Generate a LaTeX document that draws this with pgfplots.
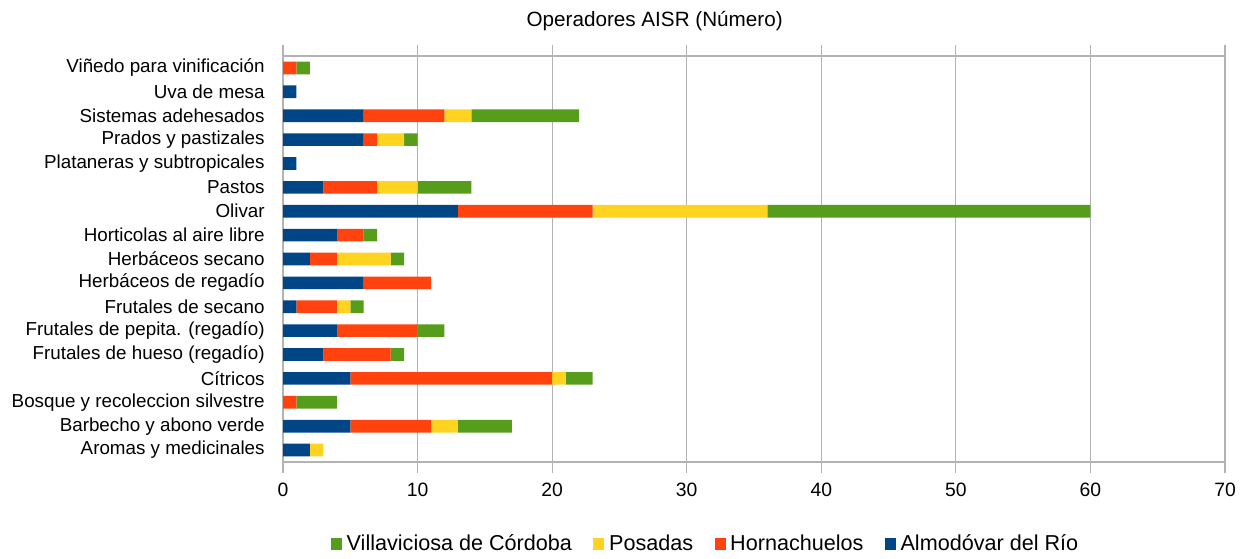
\documentclass[border=0pt]{standalone}
\usepackage{pgfplots}
\pgfplotsset{compat=1.18}
\usepackage{pgfplotstable}
\usepackage{fontspec}
\setmainfont{Liberation Sans}

\definecolor{almod}{HTML}{004586}
\definecolor{horna}{HTML}{FF420E}
\definecolor{posad}{HTML}{FFD320}
\definecolor{villa}{HTML}{579D1C}
\definecolor{gridc}{HTML}{B3B3B3}

% y: category index from bottom; alm / hor / pos / vil = operadores per municipio
\pgfplotstableread{
y  alm hor pos vil
0  2   0   1   0
1  5   6   2   4
2  0   1   0   3
3  5   15  1   2
4  3   5   0   1
5  4   6   0   2
6  1   3   1   1
7  6   5   0   0
8  2   2   4   1
9  4   2   0   1
10 13  10  13  24
11 3   4   3   4
12 1   0   0   0
13 6   1   2   1
14 6   6   2   8
15 1   0   0   0
16 0   1   0   1
}\datatable

\begin{document}
\begin{tikzpicture}
\path[use as bounding box] (0,0) rectangle (936pt,418.5pt);
\node[font=\fontsize{15.5}{17}\selectfont, anchor=center] at (491pt,403pt) {Operadores AISR (Número)};
\begin{axis}[
    at={(212.25pt,72pt)}, anchor=south west,
    scale only axis,
    width=706.5pt, height=304.5pt,
    xbar stacked,
    bar width=0.53,
    xmin=0, xmax=70,
    ymin=-0.5, ymax=16.5,
    xtick={0,10,...,70},
    ytick={0,...,16},
    yticklabels={
        Aromas y medicinales,
        Barbecho y abono verde,
        Bosque y recoleccion silvestre,
        Cítricos,
        Frutales de hueso (regadío),
        Frutales de pepita. (regadío),
        Frutales de secano,
        Herbáceos de regadío,
        Herbáceos secano,
        Horticolas al aire libre,
        Olivar,
        Pastos,
        Plataneras y subtropicales,
        Prados y pastizales,
        Sistemas adehesados,
        Uva de mesa,
        Viñedo para vinificación},
    extra y ticks={-0.5,0.5,...,16.5},
    extra y tick labels={},
    extra y tick style={major tick length=8.25pt, tick style={gridc, line width=0.9pt}},
    tick align=outside,
    ytick style={draw=none},
    xtick style={gridc, line width=0.9pt},
    major tick length=8.25pt,
    xmajorgrids,
    grid style={gridc, line width=0.9pt},
    axis line style={gridc, line width=0.9pt},
    x tick label style={font=\fontsize{14.5}{16}\selectfont, yshift=-4pt},
    y tick label style={font=\fontsize{14.1}{16}\selectfont, xshift=-2pt},
    /pgf/number format/assume math mode=true,
    legend style={at={(0.449,-0.202)}, anchor=center, draw=none,
        font=\fontsize{16.2}{17}\selectfont, column sep=1.5pt,
        /tikz/every even column/.append style={column sep=14pt}},
    legend columns=4,
    reverse legend,
    legend image code/.code={\fill[#1] (0pt,-4.2pt) rectangle (8.3pt,4.2pt);},
]
\addplot[fill=almod, draw=none] table[x=alm, y=y] {\datatable};
\addlegendentry{Almodóvar del Río}
\addplot[fill=horna, draw=none] table[x=hor, y=y] {\datatable};
\addlegendentry{Hornachuelos}
\addplot[fill=posad, draw=none] table[x=pos, y=y] {\datatable};
\addlegendentry{Posadas}
\addplot[fill=villa, draw=none] table[x=vil, y=y] {\datatable};
\addlegendentry{Villaviciosa de Córdoba}
\end{axis}
\end{tikzpicture}
\end{document}
